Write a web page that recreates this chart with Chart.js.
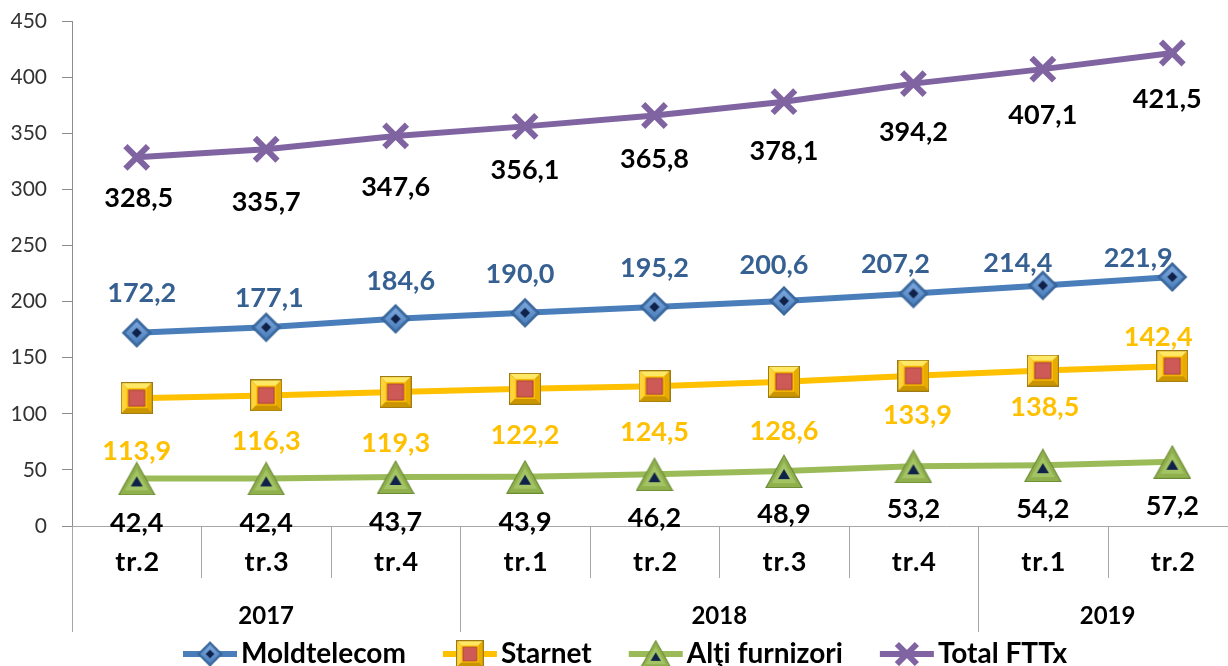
<!DOCTYPE html>
<html>
<head>
<meta charset="utf-8">
<script src="https://cdn.jsdelivr.net/npm/chart.js@4.4.0/dist/chart.umd.min.js"></script>
<style>
  html, body { margin:0; padding:0; background:#fff; overflow:hidden; }
  #wrap { width:1237px; height:666px; }
</style>
</head>
<body>
<div id="wrap"><canvas id="fttxChart" width="1237" height="666"></canvas></div>
<script>
// ---- date (abonati FTTx, mii) ----
const QUARTERS    = ['tr.2','tr.3','tr.4','tr.1','tr.2','tr.3','tr.4','tr.1','tr.2'];
const YEAR_LABELS = ['2017','2018','2019'];
const YEAR_SPANS  = [3, 4, 2];   // nr. de trimestre in fiecare an

const MOLDTELECOM = [172.2, 177.1, 184.6, 190.0, 195.2, 200.6, 207.2, 214.4, 221.9];
const STARNET     = [113.9, 116.3, 119.3, 122.2, 124.5, 128.6, 133.9, 138.5, 142.4];
const ALTI        = [ 42.4,  42.4,  43.7,  43.9,  46.2,  48.9,  53.2,  54.2,  57.2];
const TOTAL_FTTX  = [328.5, 335.7, 347.6, 356.1, 365.8, 378.1, 394.2, 407.1, 421.5];

const Y_MAX  = 450;
const Y_STEP = 50;

const FONT = 'Lato, "Open Sans", sans-serif';

const fmt = v => v.toFixed(1).replace('.', ',');

// ---- markere cu efect de relief ----
function diamondMarker() {
  const c = document.createElement('canvas'); c.width = 34; c.height = 34;
  const g = c.getContext('2d'), m = 17;
  const dia = r => { g.beginPath(); g.moveTo(m, m - r); g.lineTo(m + r, m); g.lineTo(m, m + r); g.lineTo(m - r, m); g.closePath(); };
  dia(15); g.fillStyle = '#2f5a8c'; g.fill();
  dia(14); g.fillStyle = '#3d6ca4'; g.fill();
  const gr = g.createLinearGradient(0, 5, 0, 29);
  gr.addColorStop(0, '#7fa9de'); gr.addColorStop(1, '#4a7ebb');
  dia(11); g.fillStyle = gr; g.fill();
  dia(5); g.fillStyle = '#10224a'; g.fill();
  return c;
}

function squareMarker() {
  const c = document.createElement('canvas'); c.width = 32; c.height = 32;
  const g = c.getContext('2d');
  g.fillStyle = '#9c7a14'; g.fillRect(0, 0, 32, 32);
  const quad = (pts, col) => { g.beginPath(); g.moveTo(pts[0], pts[1]); for (let i = 2; i < pts.length; i += 2) g.lineTo(pts[i], pts[i + 1]); g.closePath(); g.fillStyle = col; g.fill(); };
  quad([1,1, 31,1, 26,6, 6,6], '#ffe866');
  quad([1,1, 6,6, 6,26, 1,31], '#ffd43a');
  quad([31,1, 31,31, 26,26, 26,6], '#e8ab00');
  quad([1,31, 31,31, 26,26, 6,26], '#c99400');
  g.fillStyle = '#ffc000'; g.fillRect(6, 6, 20, 20);
  g.fillStyle = '#a8403d'; g.fillRect(7.5, 7.5, 17, 17);
  g.fillStyle = '#cd5a56'; g.fillRect(8.5, 8.5, 15, 15);
  return c;
}

function triangleMarker() {
  const c = document.createElement('canvas'); c.width = 38; c.height = 34;
  const g = c.getContext('2d');
  const tri = (ax, ay, bx, by, cx, cy, col) => { g.beginPath(); g.moveTo(ax, ay); g.lineTo(bx, by); g.lineTo(cx, cy); g.closePath(); g.fillStyle = col; g.fill(); };
  tri(19, 0, 38, 34, 0, 34, '#6a8a34');
  tri(19, 2, 36, 33, 2, 33, '#8fb04d');
  tri(19, 8, 31, 29, 7, 29, '#a3c364');
  tri(19, 15, 25, 25, 13, 25, '#10224a');
  return c;
}

const DIAMOND  = diamondMarker();
const SQUARE   = squareMarker();
const TRIANGLE = triangleMarker();

// ---- etichete si legenda ----
const fttxDecor = {
  id: 'fttxDecor',
  afterDatasetsDraw(chart) {
    const ctx = chart.ctx;
    chart.data.datasets.forEach((ds, di) => {
      const meta = chart.getDatasetMeta(di);
      ctx.save();
      ctx.font = `bold 27px ${FONT}`;
      ctx.fillStyle = ds.labelColor;
      ctx.textAlign = 'center';
      ctx.textBaseline = 'alphabetic';
      meta.data.forEach((pt, i) => {
        const dx = ds.labelDx ? ds.labelDx[i] : 0;
        ctx.fillText(fmt(ds.data[i]), pt.x + dx, pt.y + ds.labelDy[i] + 10);
      });
      ctx.restore();
    });
  },
  afterDraw(chart) {
    const { ctx, chartArea, scales: { x } } = chart;
    const bottom = chartArea.bottom;
    const step = x.getPixelForValue(1) - x.getPixelForValue(0);

    // limite intre trimestre / ani
    const yearBounds = [0];
    YEAR_SPANS.reduce((s, n) => { yearBounds.push(s + n); return s + n; }, 0);
    ctx.save();
    ctx.strokeStyle = '#a6a6a6';
    ctx.lineWidth = 1;
    for (let i = 0; i <= QUARTERS.length; i++) {
      const bx = Math.round(x.getPixelForValue(i) - step / 2) + 0.5;
      const len = yearBounds.includes(i) ? 106 : 52;
      ctx.beginPath(); ctx.moveTo(bx, bottom); ctx.lineTo(bx, bottom + len); ctx.stroke();
    }

    ctx.fillStyle = '#000';
    ctx.textAlign = 'center';
    ctx.textBaseline = 'alphabetic';
    ctx.font = `bold 27px ${FONT}`;
    ctx.letterSpacing = '1px';
    QUARTERS.forEach((q, i) => ctx.fillText(q, x.getPixelForValue(i) + 1, bottom + 45));
    ctx.letterSpacing = '0px';

    ctx.font = `bold 24px ${FONT}`;
    let start = 0;
    YEAR_LABELS.forEach((yr, k) => {
      const end = start + YEAR_SPANS[k];
      const cx = (x.getPixelForValue(start) + x.getPixelForValue(end - 1)) / 2;
      ctx.fillText(yr, cx, bottom + 98);
      start = end;
    });

    // legenda
    ctx.font = `bold 28px ${FONT}`;
    ctx.textAlign = 'left';
    let lx = 183;
    const ly = 654;
    chart.data.datasets.forEach(ds => {
      ctx.strokeStyle = ds.borderColor;
      ctx.lineWidth = 6;
      ctx.beginPath(); ctx.moveTo(lx, ly); ctx.lineTo(lx + 54, ly); ctx.stroke();
      const mx = lx + 27;
      if (typeof ds.pointStyle === 'object') {
        const w = ds.pointStyle.width * 0.85, h = ds.pointStyle.height * 0.85;
        ctx.drawImage(ds.pointStyle, mx - w / 2, ly - h / 2, w, h);
      } else {
        ctx.lineWidth = 6;
        const a = 10;
        ctx.beginPath();
        ctx.moveTo(mx - a, ly - a); ctx.lineTo(mx + a, ly + a);
        ctx.moveTo(mx + a, ly - a); ctx.lineTo(mx - a, ly + a);
        ctx.stroke();
      }
      ctx.fillStyle = '#000';
      ctx.fillText(ds.label, lx + 58, 663);
      lx += 58 + ctx.measureText(ds.label).width + 37;
    });
    ctx.restore();
  }
};

new Chart(document.getElementById('fttxChart'), {
  type: 'line',
  data: {
    labels: QUARTERS,
    datasets: [
      {
        label: 'Moldtelecom', data: MOLDTELECOM,
        borderColor: '#4a7ebb', borderWidth: 6,
        pointStyle: DIAMOND, pointRadius: 16,
        labelColor: '#376092',
        labelDy: [-41, -30, -39, -40, -40, -37, -30, -23, -20],
        labelDx: [5, 3, 5, -5, 0, -10, -18, -25, -34]
      },
      {
        label: 'Starnet', data: STARNET,
        borderColor: '#ffc000', borderWidth: 6,
        pointStyle: SQUARE, pointRadius: 16,
        labelColor: '#ffc000',
        labelDy: [52, 45, 50, 45, 45, 48, 38, 35, -30],
        labelDx: [0, 0, 0, 0, 0, 0, 4, 2, -14]
      },
      {
        label: 'Alţi furnizori', data: ALTI,
        borderColor: '#9bbb59', borderWidth: 6,
        pointStyle: TRIANGLE, pointRadius: 16,
        labelColor: '#000',
        labelDy: [44, 44, 44, 44, 43, 42, 42, 43, 43]
      },
      {
        label: 'Total FTTx', data: TOTAL_FTTX,
        borderColor: '#8064a2', borderWidth: 6,
        pointStyle: 'crossRot', pointRadius: 16, pointBorderWidth: 6,
        pointBorderColor: '#8064a2',
        labelColor: '#000',
        labelDy: [40, 52, 50, 43, 43, 48, 47, 45, 45],
        labelDx: [2, 0, 0, 0, 0, 0, 0, 0, -5]
      }
    ]
  },
  options: {
    responsive: false,
    animation: false,
    layout: { autoPadding: false, padding: { top: 21, left: 0, right: 0, bottom: 0 } },
    plugins: { legend: { display: false }, tooltip: { enabled: false } },
    scales: {
      x: {
        offset: true,
        grid: { display: false },
        ticks: { display: false },
        border: { display: true, color: '#a6a6a6', width: 1 },
        afterFit: s => { s.height = 140; }
      },
      y: {
        min: 0, max: Y_MAX,
        ticks: { stepSize: Y_STEP, padding: 15, color: '#333', font: { size: 21, family: FONT } },
        grid: { drawOnChartArea: false, tickLength: 10, color: '#8c8c8c' },
        border: { color: '#8c8c8c' },
        afterFit: s => { s.width = 72; s.paddingTop = 0; s.paddingBottom = 0; }
      }
    }
  },
  plugins: [fttxDecor]
});
</script>
</body>
</html>
